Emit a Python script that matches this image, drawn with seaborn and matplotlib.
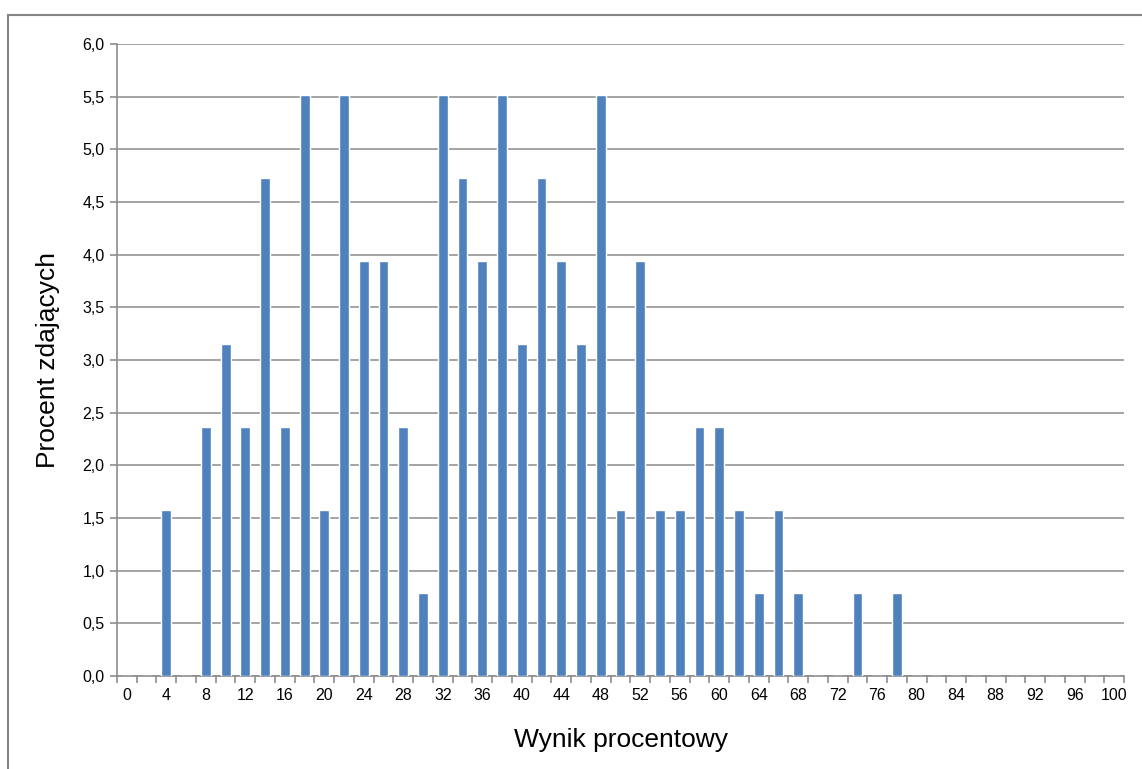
import seaborn as sns
import matplotlib.pyplot as plt
import matplotlib.ticker as ticker
import pandas as pd

# Wynik procentowy (categories) and percent of test takers
scores = list(range(0, 101, 2))
percents = [0, 0, 1.575, 0, 2.362, 3.150, 2.362, 4.724, 2.362, 5.512,
            1.575, 5.512, 3.937, 3.937, 2.362, 0.787, 5.512, 4.724, 3.937, 5.512,
            3.150, 4.724, 3.937, 3.150, 5.512, 1.575, 3.937, 1.575, 1.575, 2.362,
            2.362, 1.575, 0.787, 1.575, 0.787, 0, 0, 0.787, 0, 0.787,
            0, 0, 0, 0, 0, 0, 0, 0, 0, 0, 0]
tick_labels = [str(s) for s in range(0, 101, 4)]

df = pd.DataFrame({"wynik": [str(s) for s in scores], "procent": percents})

sns.set_style("white")
plt.rcParams["font.family"] = ["Liberation Sans", "DejaVu Sans"]
plt.rcParams["text.color"] = "black"
plt.rcParams["axes.labelcolor"] = "black"

fig = plt.figure(figsize=(11.42, 7.69), dpi=100)
ax = fig.add_axes([117 / 1142, 93 / 769, (1124 - 117) / 1142, (676 - 44) / 769])

sns.barplot(data=df, x="wynik", y="procent", order=df["wynik"], color="#4F81BD",
            width=0.5, saturation=1, ax=ax, zorder=3)

grid_col = "#8c8c8c"
ax.set_xlim(-0.5, len(scores) - 0.5)
ax.set_ylim(0, 6.0)
ax.yaxis.set_major_locator(ticker.MultipleLocator(0.5))
ax.yaxis.set_major_formatter(ticker.FuncFormatter(lambda v, p: f"{v:.1f}".replace(".", ",")))
ax.grid(axis="y", color=grid_col, linewidth=1.1, zorder=0)
ax.set_axisbelow(True)

# labels every other category, tick marks on category boundaries
ax.set_xticks(range(0, len(scores), 2))
ax.set_xticklabels(tick_labels)
ax.set_xticks([i - 0.5 for i in range(len(scores) + 1)], minor=True)
ax.tick_params(axis="x", which="major", bottom=True, length=0, pad=9, labelsize=11.5,
               labelcolor="black")
ax.tick_params(axis="x", which="minor", bottom=True, length=5, width=1.2, color=grid_col,
               direction="out")
ax.tick_params(axis="y", which="major", left=True, length=5, width=1.2, color=grid_col,
               direction="out", labelsize=11.5, labelcolor="black", pad=4)

for side in ["top", "right"]:
    ax.spines[side].set_visible(False)
for side in ["left", "bottom"]:
    ax.spines[side].set_color(grid_col)
    ax.spines[side].set_linewidth(1.2)

ax.set_xlabel("Wynik procentowy", fontsize=19, labelpad=18)
ax.set_ylabel("Procent zdających", fontsize=19, labelpad=16)

# outer chart frame (left and top edges visible)
fig.add_artist(plt.Rectangle((8 / 1142, -0.1), 1.5, 1.1 - 15 / 769,
                             transform=fig.transFigure, fill=False,
                             edgecolor="#868686", linewidth=1.5))

fig.savefig("out.png", dpi=100)
